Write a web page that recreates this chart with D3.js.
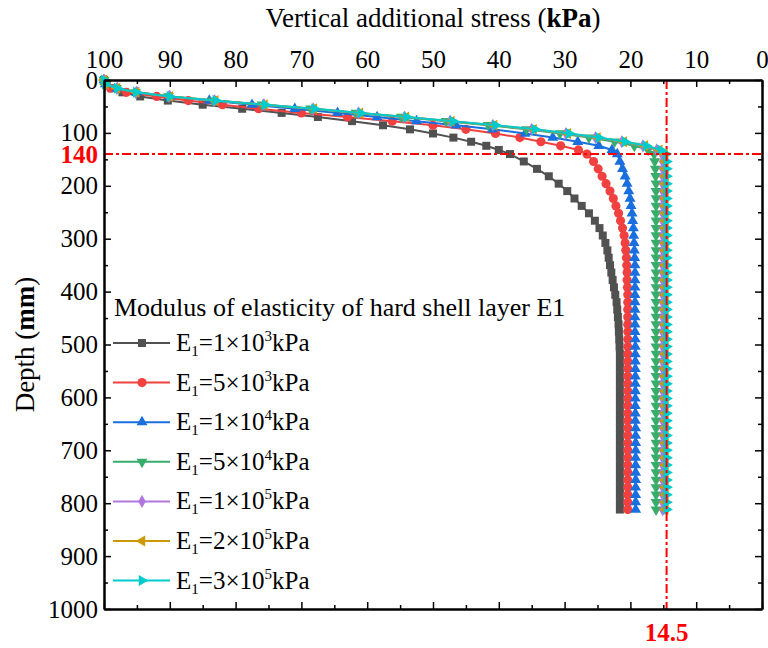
<!DOCTYPE html>
<html>
<head>
<meta charset="utf-8">
<script src="https://cdn.jsdelivr.net/npm/d3@7/dist/d3.min.js"></script>
<style>
  body { margin: 0; background: #fff; }
  text { font-family: 'Liberation Serif', 'Times New Roman', serif; }
</style>
</head>
<body>
<svg id="chart" width="768" height="648"></svg>
<script>

var width = 768, height = 648

// depth (mm) of the sampled nodes, hard shell layer then soft layer
var depthTop = [0, 7.8, 15.6, 23.3, 31.1, 38.9, 46.7, 54.4, 62.2, 70, 77.8, 85.6, 93.3, 101.1, 108.9, 116.7, 124.4, 132.2, 140]
var depthLow = [154, 168, 182, 196, 210, 224, 238, 252, 266, 280, 294, 308,
  322, 336, 350, 364, 378, 392, 406, 420, 434, 448, 462, 476,
  490, 504, 518, 532, 546, 560, 574, 588, 602, 616, 630, 644,
  658, 672, 686, 700, 714, 728, 742, 756, 770, 784, 798, 812]

// vertical additional stress (kPa)
var stressTop1e3 = [100, 99.6, 98.8, 97.2, 94.5, 90.3, 85.0, 79.0, 73.0, 67.5, 62.3, 57.6, 53.5, 50.0, 46.9, 44.2, 41.9, 40.0, 38.3]
var stressLow1e3 = [36.2, 34.2, 32.4, 30.9, 29.6, 28.5, 27.4, 26.3, 25.4, 24.7, 24.2, 23.8,
  23.5, 23.3, 23.1, 22.9, 22.7, 22.5, 22.3, 22.1, 22.0, 21.9, 21.8, 21.75,
  21.7, 21.65, 21.6, 21.6, 21.6, 21.6, 21.6, 21.6, 21.6, 21.6, 21.6, 21.6,
  21.6, 21.6, 21.6, 21.6, 21.6, 21.6, 21.6, 21.6, 21.6, 21.6, 21.6, 21.6]

var stressTop5e3 = [100, 99.8, 99.0, 96.6, 92.0, 87.2, 82.0, 76.5, 70.0, 63.0, 56.2, 50.0, 45.0, 40.5, 36.8, 33.6, 30.6, 27.9, 26.6]
var stressLow5e3 = [25.6, 24.9, 24.3, 23.7, 23.1, 22.6, 22.2, 21.8, 21.5, 21.2, 20.95, 20.8,
  20.7, 20.6, 20.55, 20.5, 20.5, 20.45, 20.4, 20.4, 20.4, 20.4, 20.4, 20.4,
  20.4, 20.4, 20.4, 20.4, 20.4, 20.4, 20.4, 20.4, 20.4, 20.4, 20.4, 20.4,
  20.4, 20.4, 20.4, 20.4, 20.4, 20.4, 20.4, 20.4, 20.4, 20.4, 20.4, 20.4]

var stressTop1e4 = [100, 99.8, 98.0, 95.0, 90.0, 84.0, 77.5, 71.0, 64.5, 58.5, 52.5, 46.5, 41.0, 36.0, 31.8, 28.0, 24.8, 22.8, 22.0]
var stressLow1e4 = [21.6, 21.2, 20.8, 20.5, 20.25, 20.05, 19.9, 19.75, 19.65, 19.55, 19.5, 19.45,
  19.4, 19.35, 19.3, 19.3, 19.3, 19.3, 19.3, 19.3, 19.3, 19.3, 19.3, 19.3,
  19.25, 19.25, 19.25, 19.25, 19.25, 19.25, 19.25, 19.25, 19.25, 19.25, 19.25, 19.25,
  19.2, 19.2, 19.2, 19.2, 19.2, 19.2, 19.2, 19.2, 19.2, 19.2, 19.2, 19.2]

var stressTop5e4 = [100, 99.8, 98.1, 95.2, 90.2, 83.4, 76.0, 68.6, 61.7, 54.8, 48.0, 41.6, 35.8, 30.7, 26.3, 22.4, 19.4, 17.3, 16.4]
var stressLow5e4 = [16.3, 16.2, 16.15, 16.1, 16.1, 16.1, 16.1, 16.1, 16.1, 16.1, 16.1, 16.1,
  16.1, 16.1, 16.1, 16.1, 16.1, 16.1, 16.1, 16.1, 16.1, 16.1, 16.1, 16.1,
  16.1, 16.1, 16.1, 16.1, 16.1, 16.1, 16.1, 16.1, 16.1, 16.1, 16.1, 16.1,
  16.1, 16.1, 16.1, 16.1, 16.1, 16.1, 16.1, 16.1, 16.1, 16.1, 16.1, 16.1]

var stressTop1e5 = [100, 99.8, 98.0, 95.1, 90.1, 83.2, 75.7, 68.2, 61.3, 54.3, 47.4, 40.9, 35.0, 29.8, 25.3, 21.3, 18.1, 16.0, 15.2]
var stressLow1e5 = [15.1, 15.1, 15.1, 15.1, 15.1, 15.1, 15.1, 15.1, 15.1, 15.1, 15.1, 15.1,
  15.1, 15.1, 15.1, 15.1, 15.1, 15.1, 15.1, 15.1, 15.1, 15.1, 15.1, 15.1,
  15.1, 15.1, 15.1, 15.1, 15.1, 15.1, 15.1, 15.1, 15.1, 15.1, 15.1, 15.1,
  15.1, 15.1, 15.1, 15.1, 15.1, 15.1, 15.1, 15.1, 15.1, 15.1, 15.1, 15.1]

var stressTop2e5 = [100, 99.8, 98.0, 95.1, 90.0, 83.1, 75.6, 68.1, 61.1, 54.1, 47.2, 40.7, 34.7, 29.5, 25.0, 21.0, 17.8, 15.6, 14.8]
var stressLow2e5 = [14.7, 14.7, 14.7, 14.7, 14.7, 14.7, 14.7, 14.7, 14.7, 14.7, 14.7, 14.7,
  14.7, 14.7, 14.7, 14.7, 14.7, 14.7, 14.7, 14.7, 14.7, 14.7, 14.7, 14.7,
  14.7, 14.7, 14.7, 14.7, 14.7, 14.7, 14.7, 14.7, 14.7, 14.7, 14.7, 14.7,
  14.7, 14.7, 14.7, 14.7, 14.7, 14.7, 14.7, 14.7, 14.7, 14.7, 14.7, 14.7]

var stressTop3e5 = [100, 99.8, 98.0, 95.1, 90.0, 83.0, 75.5, 68.0, 61.0, 54.0, 47.0, 40.5, 34.5, 29.3, 24.8, 20.8, 17.6, 15.4, 14.6]
var stressLow3e5 = [14.5, 14.5, 14.5, 14.5, 14.5, 14.5, 14.5, 14.5, 14.5, 14.5, 14.5, 14.5,
  14.5, 14.5, 14.5, 14.5, 14.5, 14.5, 14.5, 14.5, 14.5, 14.5, 14.5, 14.5,
  14.5, 14.5, 14.5, 14.5, 14.5, 14.5, 14.5, 14.5, 14.5, 14.5, 14.5, 14.5,
  14.5, 14.5, 14.5, 14.5, 14.5, 14.5, 14.5, 14.5, 14.5, 14.5, 14.5, 14.5]

var coefs = ['1', '5', '1', '5', '1', '2', '3']
var expos = ['3', '3', '4', '4', '5', '5', '5']
var colors = ['#515151', '#F14040', '#1A6FDF', '#37AD6B', '#B177DE', '#CC9900', '#00CBCC']

var xTicks = [100, 90, 80, 70, 60, 50, 40, 30, 20, 10, 0]
var xMinor = [95, 85, 75, 65, 55, 45, 35, 25, 15, 5]
var yTicks = [0, 100, 200, 300, 400, 500, 600, 700, 800, 900, 1000]
var yMinor = [50, 150, 250, 350, 450, 550, 650, 750, 850, 950]

var refDepth = 140
var refStress = 14.5

var depth = depthTop.concat(depthLow)
var stress = [
  stressTop1e3.concat(stressLow1e3),
  stressTop5e3.concat(stressLow5e3),
  stressTop1e4.concat(stressLow1e4),
  stressTop5e4.concat(stressLow5e4),
  stressTop1e5.concat(stressLow1e5),
  stressTop2e5.concat(stressLow2e5),
  stressTop3e5.concat(stressLow3e5)
]

var plotLeft = 104, plotRight = 762, plotTop = 80, plotBottom = 609
var x = d3.scaleLinear().domain([100, 0]).range([plotLeft, plotRight])
var y = d3.scaleLinear().domain([0, 1000]).range([plotTop, plotBottom])

var svg = d3.select('svg#chart')

// marker shape per series: type, size, rotation
var markers = [
  {type: d3.symbolSquare, size: 64, rot: 0},
  {type: d3.symbolCircle, size: 66, rot: 0},
  {type: d3.symbolTriangle, size: 52, rot: 0},
  {type: d3.symbolTriangle, size: 52, rot: 180},
  {type: d3.symbolDiamond, size: 50, rot: 0},
  {type: d3.symbolTriangle, size: 52, rot: -90},
  {type: d3.symbolTriangle, size: 52, rot: 90}
]

function drawMarker(g, i, cx, cy) {
  var m = markers[i]
  g.append('path')
    .attr('d', d3.symbol().type(m.type).size(m.size)())
    .attr('transform', 'translate(' + cx + ',' + cy + ') rotate(' + m.rot + ')')
    .attr('fill', colors[i])
}

// series
var line = d3.line()
  .x(function(p) { return x(p[0]) })
  .y(function(p) { return y(p[1]) })

stress.forEach(function(vals, i) {
  var pts = vals.map(function(v, j) { return [v, depth[j]] })
  var g = svg.append('g').attr('class', 'series')
  g.append('path')
    .attr('d', line(pts))
    .attr('fill', 'none')
    .attr('stroke', colors[i])
    .attr('stroke-width', 2)
  pts.forEach(function(p) {
    drawMarker(g, i, x(p[0]), y(p[1]))
  })
})

// reference lines
svg.append('line')
  .attr('x1', plotLeft).attr('x2', plotRight)
  .attr('y1', y(refDepth)).attr('y2', y(refDepth))
  .attr('stroke', '#ff0000').attr('stroke-width', 2)
  .attr('stroke-dasharray', '9,3,3,3')
svg.append('line')
  .attr('x1', x(refStress)).attr('x2', x(refStress))
  .attr('y1', plotTop).attr('y2', plotBottom)
  .attr('stroke', '#ff0000').attr('stroke-width', 2)
  .attr('stroke-dasharray', '9,3,3,3')

// axes
function styleAxis(g) {
  g.attr('font-family', null).attr('font-size', null)
  g.select('.domain').attr('stroke-width', 2)
  g.selectAll('.tick line').attr('stroke-width', 1.5)
  g.selectAll('.tick text').style('font-size', '25px').attr('fill', '#000')
}

svg.append('g').attr('transform', 'translate(0,' + plotTop + ')')
  .call(d3.axisTop(x).tickValues(xTicks).tickSize(-7).tickSizeOuter(0).tickPadding(12).tickFormat(d3.format('d')))
  .call(styleAxis)
svg.append('g').attr('transform', 'translate(0,' + plotTop + ')')
  .call(d3.axisTop(x).tickValues(xMinor).tickSize(-4).tickSizeOuter(0).tickFormat(''))
  .call(styleAxis)
svg.append('g').attr('transform', 'translate(0,' + plotBottom + ')')
  .call(d3.axisBottom(x).tickValues(xTicks).tickSize(-7).tickSizeOuter(0).tickFormat(''))
  .call(styleAxis)
svg.append('g').attr('transform', 'translate(0,' + plotBottom + ')')
  .call(d3.axisBottom(x).tickValues(xMinor).tickSize(-4).tickSizeOuter(0).tickFormat(''))
  .call(styleAxis)
svg.append('g').attr('transform', 'translate(' + plotLeft + ',0)')
  .call(d3.axisLeft(y).tickValues(yTicks).tickSize(-7).tickSizeOuter(0).tickPadding(6).tickFormat(d3.format('d')))
  .call(styleAxis)
svg.append('g').attr('transform', 'translate(' + plotLeft + ',0)')
  .call(d3.axisLeft(y).tickValues(yMinor).tickSize(-4).tickSizeOuter(0).tickFormat(''))
  .call(styleAxis)
svg.append('g').attr('transform', 'translate(' + plotRight + ',0)')
  .call(d3.axisRight(y).tickValues(yTicks).tickSize(-7).tickSizeOuter(0).tickFormat(''))
  .call(styleAxis)
svg.append('g').attr('transform', 'translate(' + plotRight + ',0)')
  .call(d3.axisRight(y).tickValues(yMinor).tickSize(-4).tickSizeOuter(0).tickFormat(''))
  .call(styleAxis)

// red reference labels
svg.append('text')
  .attr('x', plotLeft - 6).attr('y', y(refDepth)).attr('dy', '0.34em')
  .attr('text-anchor', 'end')
  .style('font-size', '25px').style('font-weight', 'bold')
  .attr('fill', '#ff0000')
  .text('140')
svg.append('text')
  .attr('x', x(refStress)).attr('y', 641)
  .attr('text-anchor', 'middle')
  .style('font-size', '25px').style('font-weight', 'bold')
  .attr('fill', '#ff0000')
  .text('14.5')

// axis titles
var xt = svg.append('text')
  .attr('x', (plotLeft + plotRight) / 2).attr('y', 27)
  .attr('text-anchor', 'middle')
  .style('font-size', '27px')
xt.append('tspan').text('Vertical additional stress (')
xt.append('tspan').style('font-weight', 'bold').text('kPa')
xt.append('tspan').text(')')

var yt = svg.append('text')
  .attr('transform', 'translate(34,' + (plotTop + plotBottom) / 2 + ') rotate(-90)')
  .attr('text-anchor', 'middle')
  .style('font-size', '27px')
yt.append('tspan').text('Depth (')
yt.append('tspan').style('font-weight', 'bold').text('mm')
yt.append('tspan').text(')')

// legend
var lg = svg.append('g').attr('class', 'legend')
lg.append('text')
  .attr('x', 114).attr('y', 316)
  .style('font-size', '26px')
  .text('Modulus of elasticity of hard shell layer E1')

coefs.forEach(function(c, i) {
  var cy = 343 + i * 39.6
  lg.append('line')
    .attr('x1', 113).attr('x2', 170)
    .attr('y1', cy).attr('y2', cy)
    .attr('stroke', colors[i]).attr('stroke-width', 2)
  drawMarker(lg, i, 142, cy)

  var t = lg.append('text')
    .attr('x', 176).attr('y', cy + 8)
    .style('font-size', '25px')
  t.append('tspan').text('E')
  t.append('tspan').attr('dy', 5).style('font-size', '15px').text('1')
  t.append('tspan').attr('dy', -5).text('=' + c + '×10')
  t.append('tspan').attr('dy', -10).style('font-size', '15px').text(expos[i])
  t.append('tspan').attr('dy', 10).text('kPa')
})

</script>
</body>
</html>
